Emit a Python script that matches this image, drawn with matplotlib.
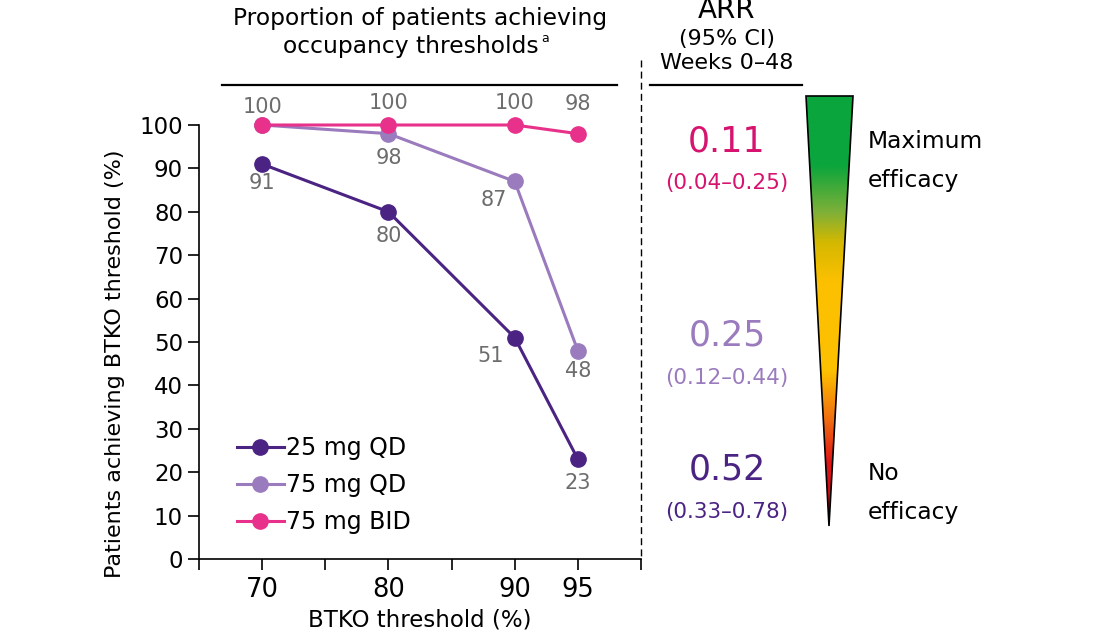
import numpy as np
import matplotlib
matplotlib.use("Agg")
import matplotlib.pyplot as plt
from matplotlib.colors import LinearSegmentedColormap
from matplotlib.patches import Polygon

thresholds = [70, 80, 90, 95]
qd25 = [91, 80, 51, 23]
qd75 = [100, 98, 87, 48]
bid75 = [100, 100, 100, 98]
series_names = ["25 mg QD", "75 mg QD", "75 mg BID"]
arr_values = ["0.11", "0.25", "0.52"]
arr_ci = ["(0.04\u20130.25)", "(0.12\u20130.44)", "(0.33\u20130.78)"]

c25 = "#4b2383"
c75 = "#9a7bbd"
cbid = "#e8318a"
gray = "#6d6d6d"

plt.rcParams["font.family"] = "DejaVu Sans"

fig = plt.figure(figsize=(11.01, 6.33), dpi=100)
W, H = 1101, 633

ax = fig.add_axes([199 / W, 1 - 559 / H, (641 - 199) / W, (559 - 125) / H])
ax.set_xlim(65, 100)
ax.set_ylim(0, 100)

for vals, col, name in [(qd25, c25, series_names[0]), (qd75, c75, series_names[1]),
                        (bid75, cbid, series_names[2])]:
    ax.plot(thresholds, vals, color=col, lw=2.2, marker="o", ms=11,
            label=name, clip_on=False, zorder=3)

# data labels, offsets in pixels (dx, dy up)
lab_kw = dict(color=gray, fontsize=15, ha="center", va="center")
offsets_25 = [(0, -19), (0, -24), (-24, -18), (0, -24)]
offsets_75 = [(0, 18), (0, -24), (-21, -19), (0, -20)]
offsets_bid = [None, (0, 22), (0, 22), (0, 30)]
for vals, offs in [(qd25, offsets_25), (qd75, offsets_75), (bid75, offsets_bid)]:
    for x, v, off in zip(thresholds, vals, offs):
        if off is None:
            continue
        ax.annotate(str(v), (x, v), xytext=(off[0] * 0.72, off[1] * 0.72),
                    textcoords="offset points", **lab_kw)

ax.spines["top"].set_visible(False)
ax.spines["right"].set_visible(False)
ax.spines["left"].set_bounds(0, 100)
ax.set_yticks(range(0, 101, 10))
ax.tick_params(axis="y", labelsize=16.5, length=8, width=1.2, pad=3.5)
ax.set_xticks([65, 70, 75, 80, 85, 90, 95, 100])
ax.set_xticklabels(["", "70", "", "80", "", "90", "95", ""])
ax.tick_params(axis="x", labelsize=18.5, length=8, width=1.2, pad=5)
for s in ax.spines.values():
    s.set_linewidth(1.2)
ax.set_ylabel("Patients achieving BTKO threshold (%)", fontsize=16)
ax.yaxis.set_label_coords(-0.168, 0.45)
ax.set_xlabel("BTKO threshold (%)", fontsize=16.5, labelpad=4)

ax.legend(loc="lower left", bbox_to_anchor=(0.085, 0.058), frameon=False,
          fontsize=17, handlelength=2.0, handletextpad=0.1,
          labelspacing=0.55, borderaxespad=0, borderpad=0)

# overlay in pixel coordinates
ov = fig.add_axes([0, 0, 1, 1])
ov.set_xlim(0, W)
ov.set_ylim(H, 0)
ov.axis("off")

ov.text(420, 18, "Proportion of patients achieving", fontsize=16.8, ha="center", va="center")
t2 = ov.text(411, 46, "occupancy thresholds", fontsize=16.8, ha="center", va="center")
ov.annotate("a", xy=(1, 0.55), xycoords=t2, xytext=(1.5, 0), textcoords="offset points",
            fontsize=9, ha="left", va="bottom")
ov.plot([222, 617], [85, 85], color="black", lw=1.6)
ov.plot([641, 641], [60, 560], color="black", lw=1, ls=(0, (5, 3)))

ov.text(727, 10, "ARR", fontsize=20, ha="center", va="center")
ov.text(727, 39, "(95% CI)", fontsize=16, ha="center", va="center")
ov.text(727, 63, "Weeks 0\u201348", fontsize=16, ha="center", va="center")
ov.plot([650, 802], [85, 85], color="black", lw=1.6)

arr_y = [141, 336, 469]
ci_y = [183, 378, 512]
arr_cols = ["#d6136e", c75, c25]
for v, ci, ya, yc, col in zip(arr_values, arr_ci, arr_y, ci_y, arr_cols):
    ov.text(727, ya, v, fontsize=25, color=col, ha="center", va="center")
    ov.text(727, yc, ci, fontsize=15.5, color=col, ha="center", va="center")

# gradient triangle
stops = [(0.0, "#0aa53c"), (0.16, "#0aa53c"), (0.27, "#7fb038"), (0.34, "#d4b800"),
         (0.43, "#fcc000"), (0.64, "#fcc000"), (0.75, "#f07010"), (0.85, "#e01818"),
         (1.0, "#c00010")]
cmap = LinearSegmentedColormap.from_list("eff", stops)
tri = Polygon([[806, 96], [853, 96], [829, 526]], closed=True, facecolor="none",
              edgecolor="black", lw=1.2, zorder=3)
ov.add_patch(tri)
grad = np.linspace(0, 1, 256).reshape(-1, 1)
im = ov.imshow(grad, cmap=cmap, aspect="auto", extent=[806, 853, 526, 96], zorder=2)
im.set_clip_path(tri)
ov.set_xlim(0, W)
ov.set_ylim(H, 0)

for txt, yy in [("Maximum", 141), ("efficacy", 181), ("No", 474), ("efficacy", 512)]:
    ov.text(868, yy, txt, fontsize=16.8, ha="left", va="center")

fig.savefig("out.png", dpi=100)
